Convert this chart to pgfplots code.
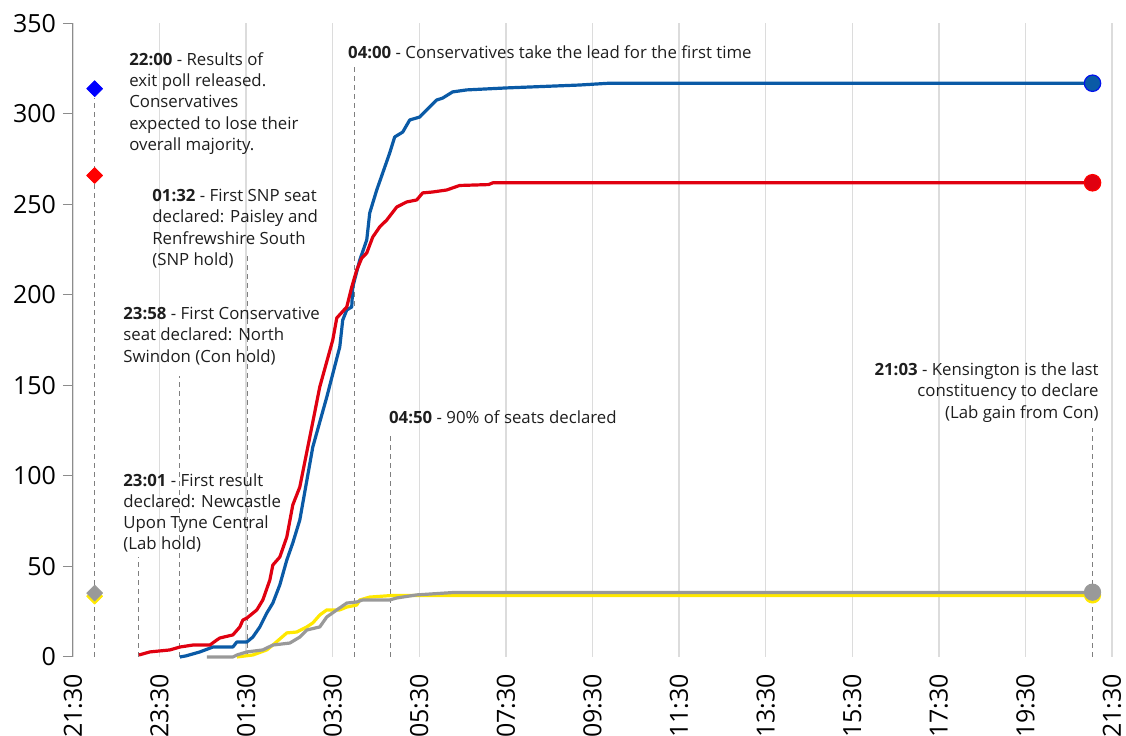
\documentclass[border=0pt]{standalone}
\usepackage{fontspec}
\setmainfont{Open Sans}
\usepackage{pgfplots}
\pgfplotsset{compat=1.18}

\definecolor{conblue}{HTML}{0A5AA6}
\definecolor{labred}{HTML}{E00010}
\definecolor{ldyellow}{HTML}{FFE800}
\definecolor{snpgray}{HTML}{999999}
\definecolor{gridgray}{HTML}{DCDCDC}
\definecolor{axisgray}{HTML}{8C8C8C}
\definecolor{dashgray}{HTML}{7F7F7F}
\definecolor{txt}{HTML}{1E1E1E}

\begin{document}
\begin{tikzpicture}
\begin{axis}[
    scale only axis,
    width=519.5pt, height=316.75pt,
    xmin=0, xmax=24, ymin=0, ymax=350,
    clip=false,
    axis lines=left,
    axis line style={-, draw=axisgray, line width=0.5pt},
    x axis line style={draw=none},
    xtick={0,2,...,24},
    xticklabels={21:30,23:30,01:30,03:30,05:30,07:30,09:30,11:30,13:30,15:30,17:30,19:30,21:30},
    xticklabel style={rotate=90, anchor=east, font=\fontsize{12.5}{14}\selectfont},
    xtick style={draw=none},
    xmajorgrids,
    grid style={draw=gridgray, line width=0.75pt},
    ytick={0,50,...,350},
    tick align=outside,
    ytick style={draw=axisgray, line width=0.5pt},
    major tick length=5pt,
    yticklabel style={font=\fontsize{12.5}{14}\selectfont},
    /pgf/number format/assume math mode=true,
    every axis plot/.append style={line join=round},
]
% annotation guide lines
\pgfplotsset{guide/.style={dashgray, line width=0.7pt, dash pattern=on 2.5pt off 2pt, forget plot}}
\addplot[guide] coordinates {(0.5,0) (0.5,309)};
\addplot[guide] coordinates {(1.517,0) (1.517,55)};
\addplot[guide] coordinates {(2.467,0) (2.467,155)};
\addplot[guide] coordinates {(4.033,0) (4.033,222)};
\addplot[guide] coordinates {(6.5,0) (6.5,326)};
\addplot[guide] coordinates {(7.333,0) (7.333,124)};
\addplot[guide] coordinates {(23.55,0) (23.55,126.5)};

% Yellow
\addplot[ldyellow, line width=1.6pt] coordinates {
(3.785,0) (4.154,1.1) (4.477,3.9) (4.616,6.6) (4.939,13.3) (5.17,13.8)
(5.4,16.6) (5.539,18.8) (5.7,23.2) (5.862,26) (6.162,26) (6.324,27.6)
(6.554,28.7) (6.624,31.5) (6.854,33.1) (7.385,34.0) (23.55,34.0)};
% Gray
\addplot[snpgray, line width=1.6pt] coordinates {
(3.093,0) (3.693,0) (3.785,1.1) (4.016,2.8) (4.385,3.9) (4.616,6.6)
(5.008,7.7) (5.239,11) (5.4,14.9) (5.7,16.6) (5.862,22.1) (6.093,26)
(6.324,29.8) (6.554,30.4) (6.693,31.5) (7.316,31.5) (7.478,32.6)
(7.939,34.3) (8.77,35.6) (23.55,35.6)};
% Blue
\addplot[conblue, line width=1.6pt] coordinates {
(2.469,0) (2.608,0.6) (2.931,2.8) (3.231,5.5) (3.693,5.5) (3.785,8.3)
(4.016,8.3) (4.154,11) (4.316,16.6) (4.477,24.3) (4.616,29.8) (4.777,39.8)
(4.939,53.6) (5.077,63) (5.239,75.7) (5.539,116) (5.862,143.6) (6.162,171.3)
(6.231,186.2) (6.324,191.7) (6.439,193.4) (6.462,204.4) (6.624,219.3)
(6.785,230.4) (6.854,245.3) (7.016,258) (7.154,267.4) (7.316,278.5)
(7.431,287.3) (7.616,290) (7.778,296.7) (8.008,298.3) (8.17,302.2)
(8.4,307.7) (8.539,308.8) (8.77,312.2) (9.093,313.3) (10.016,314.4)
(11.7,316) (12.39,317) (23.55,317)};
% Red
\addplot[labred, line width=1.6pt] coordinates {
(1.523,1.1) (1.777,2.8) (2.239,3.9) (2.469,5.5) (2.769,6.6) (3.162,6.6)
(3.323,9.4) (3.393,10.5) (3.693,12.2) (3.854,16.6) (3.923,20.4) (4.016,21.5)
(4.246,26) (4.385,31.5) (4.547,42.5) (4.616,50.8) (4.777,55.2) (4.939,66.3)
(5.077,84) (5.239,93.9) (5.47,121.5) (5.7,149.2) (6.0,175.1) (6.093,187.3)
(6.324,193.4) (6.439,204.4) (6.554,213.8) (6.67,220.4) (6.785,223.2)
(6.924,232) (7.085,237.6) (7.247,241.4) (7.478,248.6) (7.708,251.4)
(7.939,252.5) (8.078,256.4) (8.308,256.9) (8.631,258) (8.931,260.5)
(9.6,261) (9.7,262) (23.55,262)};

% exit poll markers
\pgfplotsset{dia/.style={only marks, mark=square*, mark size=2.8pt, mark options={rotate=45}, forget plot}}
\addplot[dia, ldyellow] coordinates {(0.5,33.6)};
\addplot[dia, snpgray] coordinates {(0.5,35.3)};
\addplot[dia, labred, mark options={rotate=45, fill=red, draw=red}] coordinates {(0.5,266)};
\addplot[dia, blue, mark options={rotate=45, fill=blue, draw=blue}] coordinates {(0.5,314)};

% final markers
\pgfplotsset{endm/.style={only marks, mark=*, mark size=4.1pt, forget plot}}
\addplot[endm, mark options={fill=ldyellow, draw=ldyellow}] coordinates {(23.55,34.3)};
\addplot[endm, mark options={fill=snpgray, draw=snpgray}] coordinates {(23.55,35.8)};
\addplot[endm, mark options={fill=labred, draw=red, line width=0.6pt}] coordinates {(23.55,262)};
\addplot[endm, mark options={fill=conblue, draw=blue!80!conblue, line width=0.6pt}] coordinates {(23.55,317)};

% annotations
\tikzset{ann/.style={inner sep=0pt, align=left, text=txt, font=\fontsize{8.4}{10.65}\selectfont}}
\node[ann, anchor=north west] at (axis cs:1.292,334.3)
  {\textbf{22:00} - Results of\\exit poll released.\\Conservatives\\expected to lose their\\overall majority.};
\node[ann, anchor=north west] at (axis cs:1.823,258.6)
  {\textbf{01:32} - First SNP seat\\declared: Paisley and\\Renfrewshire South\\(SNP hold)};
\node[ann, anchor=north west] at (axis cs:1.154,193.4)
  {\textbf{23:58} - First Conservative\\seat declared: North\\Swindon (Con hold)};
\node[ann, anchor=north west] at (axis cs:1.154,101.7)
  {\textbf{23:01} - First result\\declared: Newcastle\\Upon Tyne Central\\(Lab hold)};
\node[ann, anchor=north west] at (axis cs:6.347,338.1)
  {\textbf{04:00} - Conservatives take the lead for the first time};
\node[ann, anchor=north west] at (axis cs:7.293,136.5)
  {\textbf{04:50} - 90\% of seats declared};
\node[ann, anchor=north east, align=right] at (axis cs:23.70,162.8)
  {\textbf{21:03} - Kensington is the last\\constituency to declare\\(Lab gain from Con)};
\end{axis}
\pgfresetboundingbox
\useasboundingbox ([xshift=-36.5pt,yshift=-39.5pt]current axis.south west)
  rectangle ([xshift=7pt,yshift=11.75pt]current axis.north east);
\end{tikzpicture}
\end{document}
